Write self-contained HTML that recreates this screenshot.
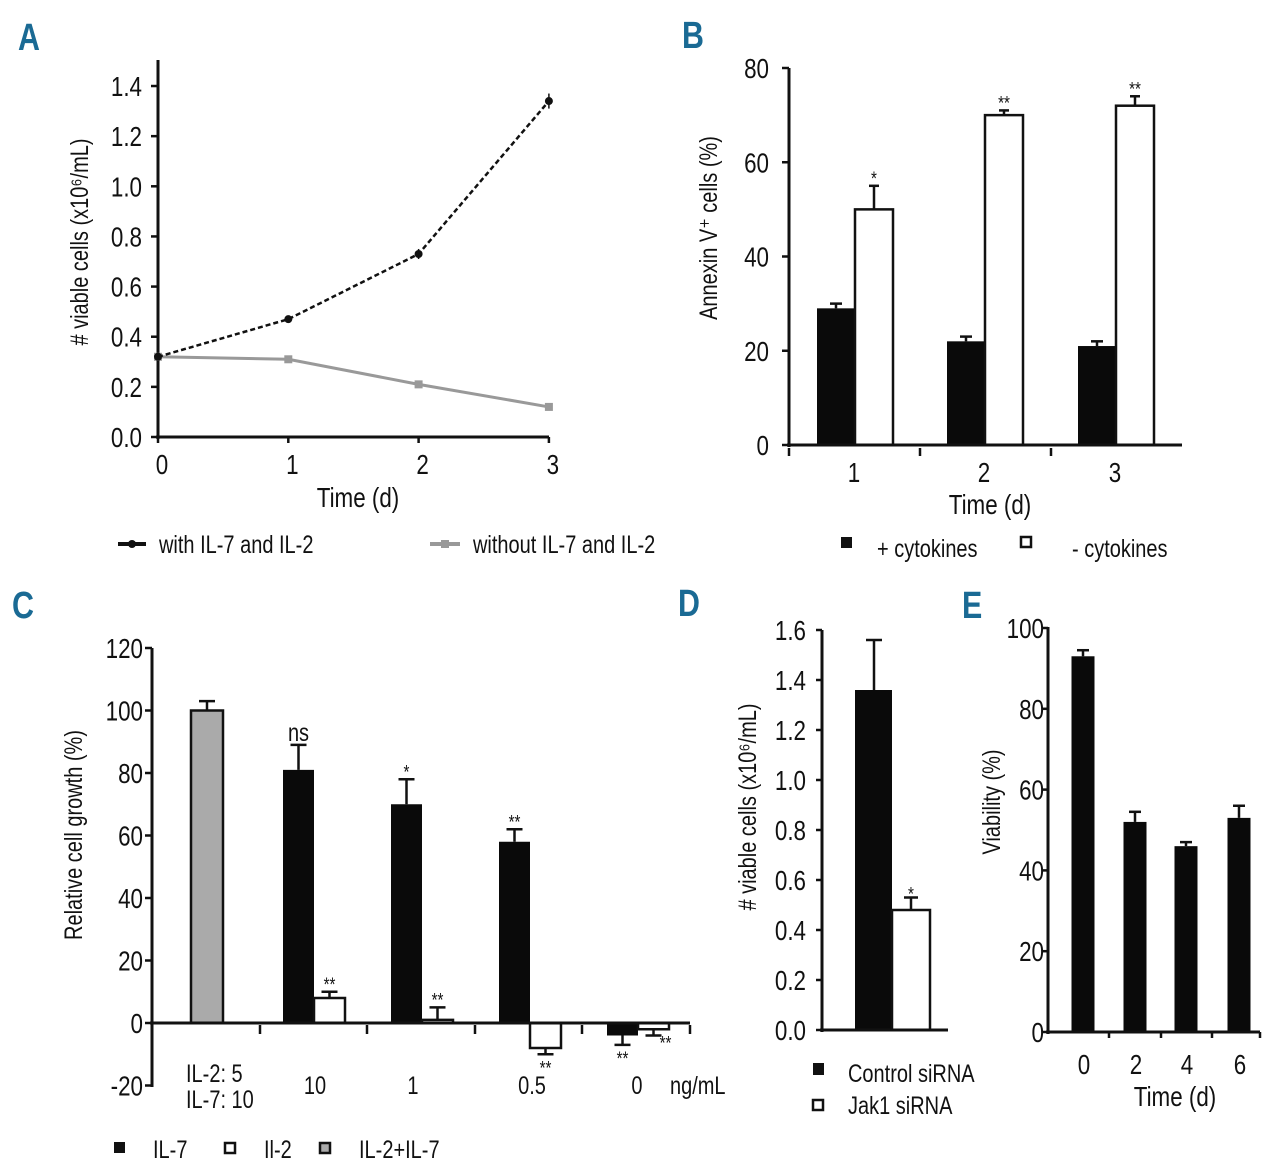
<!DOCTYPE html>
<html><head><meta charset="utf-8"><style>
html,body{margin:0;padding:0;background:#fff;}
svg{display:block;font-family:"Liberation Sans",sans-serif;}
.t{font-size:28px;fill:#111;}
.l{font-size:25px;fill:#111;}
.s{font-size:19px;fill:#111;}
.p{font-size:38px;font-weight:bold;fill:#1a6a94;}
</style></head><body>
<svg id="fig" width="1280" height="1173" viewBox="0 0 1280 1173" xmlns="http://www.w3.org/2000/svg">
<g id="root"></g>
</svg>
<script>
// Panel A data
const aDays = [0, 1, 2, 3];
const aWith = [0.32, 0.47, 0.73, 1.34];
const aWithErr = [0.01, 0.01, 0.02, 0.03];
const aWithout = [0.32, 0.31, 0.21, 0.12];
const aTicks = ["0.0","0.2","0.4","0.6","0.8","1.0","1.2","1.4"];
// Panel B data
const bCats = ["1","2","3"];
const bPlus = [29, 22, 21];
const bPlusErr = [1, 1, 1];
const bMinus = [50, 70, 72];
const bMinusErr = [5, 1, 2];
const bStars = ["*","**","**"];
const bTicks = ["0","20","40","60","80"];
// Panel C data
const cCats = ["10","1","0.5","0"];
const cCombo = 100;
const cComboErr = 3;
const cIL7 = [81, 70, 58, -4];
const cIL7Err = [8, 8, 4, -3];
const cIL7Lab = ["ns","*","**","**"];
const cIL2 = [8, 1, -8, -2];
const cIL2Err = [2, 4, -2, -2];
const cIL2Lab = ["**","**","**","**"];
const cTicks = ["-20","0","20","40","60","80","100","120"];
// Panel D data
const dVals = [1.36, 0.48];
const dErr = [0.2, 0.05];
const dTicks = ["0.0","0.2","0.4","0.6","0.8","1.0","1.2","1.4","1.6"];
// Panel E data
const eCats = ["0","2","4","6"];
const eVals = [93, 52, 46, 53];
const eErr = [1.5, 2.5, 1, 3];
const eTicks = ["0","20","40","60","80","100"];

const NS = "http://www.w3.org/2000/svg";
const SX = 0.8;
const root = document.getElementById('root');
function mk(tag, at, parent){
  const e = document.createElementNS(NS, tag);
  for (const k in at) e.setAttribute(k, at[k]);
  (parent||root).appendChild(e);
  return e;
}
function line(x1,y1,x2,y2,w,c,p){return mk('line',{x1:x1,y1:y1,x2:x2,y2:y2,stroke:c||'#111','stroke-width':w||3},p);}
function txt(x,y,s,cls,anchor,p){
  const e=mk('text',{x:0,y:0,class:cls,'text-anchor':anchor||'middle',transform:'translate('+x+','+y+') scale('+SX+',1)'},p);
  e.textContent=s;return e;
}
function rtxt(x,y,s,cls,p){
  const e=mk('text',{x:0,y:0,class:cls,'text-anchor':'middle',transform:'translate('+x+','+y+') rotate(-90) scale('+SX+',1)'},p);
  e.textContent=s;return e;
}
function errBar(x,y0,y1,hw,p){line(x,y0,x,y1,2.5,'#111',p);line(x-hw,y1,x+hw,y1,2.5,'#111',p);}

// Panel letters
[["A",18,50],["B",682,48],["C",12,618],["D",678,616],["E",962,618]].forEach(function(d){
  const e = txt(d[1],d[2],d[0],'p','start');
  
  
});

// ===== Panel A =====
(function(){
  const g = mk('g',{});
  
  
  const x = d => 158 + d*130.3;
  const y = v => 437 - v*250.7;
  line(158,60,158,439,3,'#111',g);
  line(156,437,549,437,3,'#111',g);
  aTicks.forEach(function(t){
    const v = parseFloat(t);
    line(151,y(v),158,y(v),2.5,'#111',g);
    const e = txt(142,y(v)+10,t,'t','end',g);
    
    
  });
  aDays.forEach(function(d){
    line(x(d),437,x(d),443,2.5,'#111',g);
    const e = txt(x(d)+4,474,String(d),'t','middle',g);
    
    
  });
  const xt = txt(358,507,'Time (d)','t','middle',g);
  
  
  const yt = rtxt(88,242,'# viable cells (x10⁶/mL)','l',g);
  
  
  const pw = aDays.map((d,i)=>x(d)+','+y(aWithout[i])).join(' ');
  const l2 = mk('polyline',{points:pw,fill:'none',stroke:'#999','stroke-width':3},g);
  
  
  aDays.forEach(function(d,i){
    const r = mk('rect',{x:x(d)-4,y:y(aWithout[i])-4,width:8,height:8,fill:'#999'},g);
    
    
  });
  const pl = aDays.map((d,i)=>x(d)+','+y(aWith[i])).join(' ');
  const l1 = mk('polyline',{points:pl,fill:'none',stroke:'#111','stroke-width':2.5,'stroke-dasharray':'5,3'},g);
  
  
  aDays.forEach(function(d,i){
    line(x(d),y(aWith[i]+aWithErr[i]),x(d),y(aWith[i]-aWithErr[i]),1.5,'#111',g);
    const c = mk('circle',{cx:x(d),cy:y(aWith[i]),r:4,fill:'#111'},g);
    
    
  });
  const lg = mk('g',{},g);
  
  
  line(118,544,146,544,4,'#111',lg); mk('circle',{cx:132,cy:544,r:4,fill:'#111'},lg);
  txt(159,553,'with IL-7 and IL-2','l','start',lg);
  line(430,544,460,544,4,'#999',lg); mk('rect',{x:441,y:540,width:8,height:8,fill:'#999'},lg);
  txt(473,553,'without IL-7 and IL-2','l','start',lg);
})();

// ===== Panel B =====
(function(){
  const g = mk('g',{});
  
  
  const y = v => 445 - v*4.7125;
  const centers = [855, 985, 1116];
  const bw = 38;
  bCats.forEach(function(c,i){
    const cx = centers[i];
    errBar(cx-bw/2,y(bPlus[i]),y(bPlus[i]+bPlusErr[i]),6,g);
    const r1 = mk('rect',{x:cx-bw,y:y(bPlus[i]),width:bw,height:445-y(bPlus[i]),fill:'#0a0a0a'},g);
    
    
    errBar(cx+bw/2,y(bMinus[i]),y(bMinus[i]+bMinusErr[i]),5,g);
    const r2 = mk('rect',{x:cx,y:y(bMinus[i]),width:bw,height:445-y(bMinus[i]),fill:'#fff',stroke:'#111','stroke-width':2.5},g);
    
    
    const s = txt(cx+bw/2,y(bMinus[i]+bMinusErr[i])-1,bStars[i],'s','middle',g);
    
    
    const t = txt(cx-1,482,c,'t','middle',g);
    
    
  });
  line(789,68,789,447,3,'#111',g);
  line(787,445,1182,445,3,'#111',g);
  [789,920,1051].forEach(function(xx){line(xx,448,xx,456,2.5,'#111',g);});
  bTicks.forEach(function(t){
    const v = parseFloat(t);
    line(782,y(v),789,y(v),2.5,'#111',g);
    const e = txt(769,y(v)+10,t,'t','end',g);
    
    
  });
  const xt = txt(990,514,'Time (d)','t','middle',g);
  
  
  const yt = rtxt(717,228,'Annexin V⁺ cells (%)','l',g);
  
  
  const lg = mk('g',{},g);
  
  
  mk('rect',{x:841,y:537,width:11,height:11,fill:'#111'},lg);
  txt(877,557,'+ cytokines','l','start',lg);
  mk('rect',{x:1021,y:537,width:10,height:10,fill:'#fff',stroke:'#111','stroke-width':2.5},lg);
  txt(1072,557,'- cytokines','l','start',lg);
})();

// ===== Panel C =====
(function(){
  const g = mk('g',{});
  
  
  const y = v => 1023 - v*3.125;
  const bw = 31;
  errBar(207,y(cCombo),y(cCombo+cComboErr),8,g);
  const rc = mk('rect',{x:191,y:y(cCombo),width:32,height:1023-y(cCombo),fill:'#aaa',stroke:'#111','stroke-width':2.5},g);
  
  
  const centers = [314, 422, 530, 638];
  cCats.forEach(function(c,i){
    const cx = centers[i];
    const v1 = cIL7[i], v2 = cIL2[i];
    errBar(cx-bw/2,y(v1),y(v1+cIL7Err[i]),8,g);
    const r1 = mk('rect',{x:cx-bw,y:Math.min(y(v1),y(0)),width:bw,height:Math.abs(y(v1)-y(0)),fill:'#0a0a0a'},g);
    
    
    errBar(cx+bw/2,y(v2),y(v2+cIL2Err[i]),8,g);
    const r2 = mk('rect',{x:cx,y:Math.min(y(v2),y(0)),width:bw,height:Math.abs(y(v2)-y(0)),fill:'#fff',stroke:'#111','stroke-width':2.5},g);
    
    
    const isNs = cIL7Lab[i]==='ns';
    const ly1 = cIL7Err[i] >= 0 ? y(v1+cIL7Err[i])+(isNs?-4:-1) : y(v1+cIL7Err[i])+20;
    const s1 = txt(cx-bw/2,ly1,cIL7Lab[i],isNs?'l':'s','middle',g);
    
    
    const ly2 = cIL2Err[i] >= 0 ? y(v2+cIL2Err[i])-1 : y(v2+cIL2Err[i])+20;
    const s2 = txt(cx+bw/2+(i===3?12:0),ly2-(i===3?6:0),cIL2Lab[i],'s','middle',g);
    
    
    const t = txt([315,413,532,637][i],1094,c,'l','middle',g);
    
    
  });
  line(152,648,152,1087,3,'#111',g);
  line(150,1023,690,1023,3,'#111',g);
  [260,367,475,582,690].forEach(function(xx){line(xx,1025,xx,1034,2.5,'#111',g);});
  cTicks.forEach(function(t){
    const v = parseFloat(t);
    line(145,y(v),152,y(v),2.5,'#111',g);
    const e = txt(143,y(v)+10,t,'t','end',g);
    
    
  });
  const u = txt(670,1094,'ng/mL','l','start',g);
  
  
  const cl = txt(186,1082,'IL-2: 5','l','start',g);
  
  
  txt(186,1108,'IL-7: 10','l','start',g);
  const yt = rtxt(82,835,'Relative cell growth (%)','l',g);
  
  
  const lg = mk('g',{},g);
  
  
  mk('rect',{x:114,y:1142,width:11,height:11,fill:'#111'},lg);
  txt(153,1158,'IL-7','l','start',lg);
  mk('rect',{x:225,y:1143,width:10,height:10,fill:'#fff',stroke:'#111','stroke-width':2.5},lg);
  txt(264,1158,'Il-2','l','start',lg);
  mk('rect',{x:320,y:1143,width:10,height:10,fill:'#aaa',stroke:'#111','stroke-width':2.5},lg);
  txt(359,1158,'IL-2+IL-7','l','start',lg);
})();

// ===== Panel D =====
(function(){
  const g = mk('g',{});
  
  
  const y = v => 1030 - v*250;
  errBar(874,y(dVals[0]),y(dVals[0]+dErr[0]),8,g);
  const r1 = mk('rect',{x:855,y:y(dVals[0]),width:37,height:1030-y(dVals[0]),fill:'#0a0a0a'},g);
  
  
  errBar(911,y(dVals[1]),y(dVals[1]+dErr[1]),7,g);
  const r2 = mk('rect',{x:892,y:y(dVals[1]),width:38,height:1030-y(dVals[1]),fill:'#fff',stroke:'#111','stroke-width':2.5},g);
  
  
  const s = txt(911,y(dVals[1]+dErr[1])+3,'*','s','middle',g);
  
  
  line(822,630,822,1032,3,'#111',g);
  line(820,1030,948,1030,3,'#111',g);
  dTicks.forEach(function(t){
    const v = parseFloat(t);
    line(816,y(v),822,y(v),2.5,'#111',g);
    const e = txt(806,y(v)+10,t,'t','end',g);
    
    
  });
  const yt = rtxt(756,807,'# viable cells (x10⁶/mL)','l',g);
  
  
  const lg = mk('g',{},g);
  
  
  mk('rect',{x:813,y:1063,width:11,height:12,fill:'#111'},lg);
  txt(848,1082,'Control siRNA','l','start',lg);
  mk('rect',{x:813,y:1100,width:10,height:10,fill:'#fff',stroke:'#111','stroke-width':2.5},lg);
  txt(848,1114,'Jak1 siRNA','l','start',lg);
})();

// ===== Panel E =====
(function(){
  const g = mk('g',{});
  
  
  const y = v => 1032 - v*4.04;
  const centers = [1083, 1135, 1186, 1239];
  eCats.forEach(function(c,i){
    errBar(centers[i],y(eVals[i]),y(eVals[i]+eErr[i]),6,g);
    const r = mk('rect',{x:centers[i]-11.5,y:y(eVals[i]),width:23,height:1032-y(eVals[i]),fill:'#0a0a0a'},g);
    
    
    const t = txt(centers[i]+1,1074,c,'t','middle',g);
    
    
  });
  line(1048,627,1048,1034,3,'#111',g);
  line(1046,1032,1260,1032,3,'#111',g);
  [1109,1161,1212,1260].forEach(function(xx){line(xx,1032,xx,1038,2.5,'#111',g);});
  eTicks.forEach(function(t){
    const v = parseFloat(t);
    line(1042,y(v),1048,y(v),2.5,'#111',g);
    const e = txt(1044,y(v)+10,t,'t','end',g);
    
    
  });
  const xt = txt(1175,1106,'Time (d)','t','middle',g);
  
  
  const yt = rtxt(1000,802,'Viability (%)','l',g);
  
  
})();
</script>
</body></html>
